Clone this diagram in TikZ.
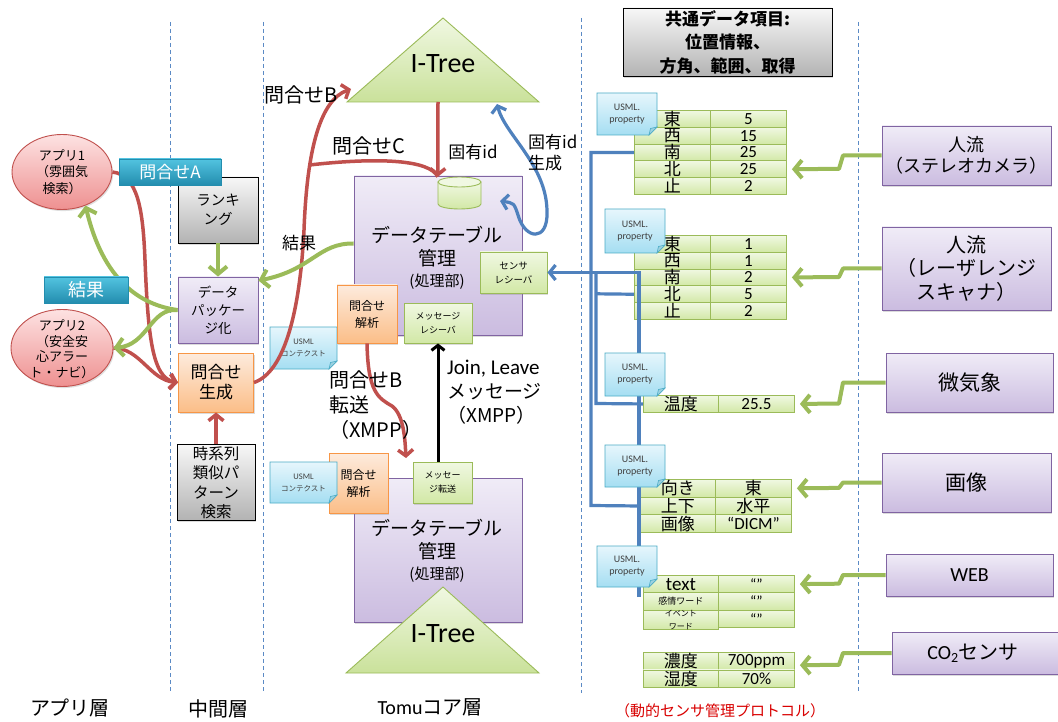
\documentclass[tikz,border=0pt]{standalone}
\usepackage{fontspec}
\setmainfont{Noto Sans CJK JP}
\newfontfamily\calib{Carlito}
\usetikzlibrary{arrows.meta,shapes.geometric,shadows}
\definecolor{gr}{HTML}{9BBB59}
\definecolor{rd}{HTML}{C0504D}
\definecolor{bl}{HTML}{4F81BD}
\definecolor{pu}{HTML}{8064A2}
\definecolor{puT}{HTML}{F0ECF7}
\definecolor{puB}{HTML}{CBBCE0}
\definecolor{orT}{HTML}{FDEBDD}
\definecolor{orB}{HTML}{FBBE88}
\definecolor{orD}{HTML}{F79646}
\definecolor{gT}{HTML}{F0F8E2}
\definecolor{gB}{HTML}{D2E8A6}
\definecolor{nT}{HTML}{E6F6FC}
\definecolor{nB}{HTML}{A5DEF2}
\definecolor{nD}{HTML}{4BACC6}
\definecolor{aqT}{HTML}{52C3E0}
\definecolor{aqB}{HTML}{238DAE}
\definecolor{pkT}{HTML}{FDE2E2}
\definecolor{pkB}{HTML}{EE9090}
\definecolor{dsh}{HTML}{5B8AC5}
\newcommand\fz[2]{\fontsize{#1}{#2}\selectfont}
\newcommand\mytrow[8]{%
  \node[cell, minimum width={#3-#2}, minimum height=#6, font=\fz{17}{17}] (#1l) at (#2,#5) {#7};
  \node[cell, minimum width={#4-#3}, minimum height=#6, font=\calib\fz{17}{17}] (#1r) at (#3,#5) {#8};
}
\newcommand\mynote[6]{%
  \path[draw=nD, line width=0.8pt, top color=nT, bottom color=nB]
    (#2,#3) -- (#4,#3) -- (#4,#5-8) -- (#4-8,#5) -- (#2,#5) -- cycle;
  \path[draw=nD, line width=0.6pt, fill=nD!55] (#4,#5-8) -- (#4-8,#5) -- (#4-6.5,#5-6.5) -- cycle;
  \node[inner sep=0pt, align=center, text=black!75, font=\calib\fz{10}{12}] (#1) at ({(#2+#4)/2},{(#3+#5)/2}) {#6};
}
\begin{document}
\begin{tikzpicture}[x=1pt,y=-1pt,
  box/.style={draw, line width=0.9pt, inner sep=0pt, align=center,
    drop shadow={shadow xshift=1.2pt,shadow yshift=-1.6pt,opacity=0.28}},
  pbox/.style={box, draw=pu, top color=puT, bottom color=puB},
  obox/.style={box, draw=orD, top color=orT, bottom color=orB},
  gbox/.style={box, draw=gr, top color=gT, bottom color=gB},
  kbox/.style={box, draw=black, top color=black!3, bottom color=black!30},
  abox/.style={draw=aqB, line width=0.6pt, top color=aqT, bottom color=aqB, text=white, inner sep=0pt},
  app/.style={ellipse, draw=rd, line width=0.9pt, top color=pkT, bottom color=pkB, inner sep=0pt,
    drop shadow={shadow xshift=1.2pt,shadow yshift=-1.6pt,opacity=0.25}},
  cell/.style={draw=gr, line width=0.9pt, top color=gT, bottom color=gB, inner sep=0pt, anchor=north west, align=center},
  lbl/.style={inner sep=0pt, align=left},
  garrow/.style={draw=gr, line width=4pt, line join=round, -{Straight Barb[length=7.5pt,width=18pt]}},
  rline/.style={draw=rd, line width=3.5pt},
  rarrow/.style={rline, -{Straight Barb[length=6pt,width=15pt]}},
  bline/.style={draw=bl, line width=3.2pt},
  barrow/.style={bline, -{Straight Barb[length=6pt,width=15pt]}},
  karrow/.style={draw=black, line width=3pt, -{Straight Barb[length=5pt,width=13pt]}},
  sep/.style={draw=dsh, line width=1pt, dash pattern=on 4pt off 3pt},
  tri/.style={draw=gr, line width=0.9pt, top color=gT, bottom color=gB!85!gr},
]
\fill[white] (0,0) rectangle (1058,722);
\useasboundingbox (0,0) rectangle (1058,722);

% layer separators
\draw[sep] (170,22) -- (170,693);
\draw[sep] (263,22) -- (263,693);
\draw[sep] (581,18) -- (581,693);
\draw[sep] (858,22) -- (858,693);

% ---------- left: apps ----------
\node[app, minimum width=100, minimum height=75] (app1) at (62,172) {};
\node[inner sep=0pt, align=center, font=\fz{13}{16.5}] (app1t) at (62,172) {アプリ1\\（雰囲気\\検索）};
\node[app, minimum width=102, minimum height=77] (app2) at (62,348) {};
\node[inner sep=0pt, align=center, font=\fz{13}{15.5}] (app2t) at (62,349) {アプリ2\\（安全安\\心アラー\\ト・ナビ）};

% ---------- middle layer ----------
\node[kbox, minimum width=80, minimum height=66, font=\fz{14.5}{19}] (rank) at (218,210) {ランキ\\ング};
\node[pbox, minimum width=80, minimum height=66, font=\fz{13.5}{18}] (pkg) at (218,310) {データ\\パッケー\\ジ化};
\node[obox, minimum width=75, minimum height=59, font=\fz{17}{20}] (gen) at (216,382.5) {問合せ\\生成};
\node[kbox, minimum width=78, minimum height=76, font=\fz{15.5}{19.5}] (ts) at (216,482.5) {時系列\\類似パ\\ターン\\検索};

% ---------- core: upper ----------
\path[tri] (443,18) -- (539,102) -- (347,102) -- cycle;
\node[font=\calib\fz{28}{28}, inner sep=0pt] (it1) at (443,64) {I-Tree};
\coordinate (itL) at (351,89);
\coordinate (itB) at (438,102);

\node[pbox, minimum width=168, minimum height=159] (dt1) at (438,255.5) {};
\node[inner sep=0pt, align=center, font=\fz{19}{23}] (dt1t) at (437,246.5) {データテーブル\\管理};
\node[inner sep=0pt, font=\fz{15}{15}] (dt1p) at (437,282) {(処理部)};

\node[inner sep=0pt, minimum width=43, minimum height=32] (cyl) at (459.5,193) {};
\path[draw=gr, line width=0.9pt, top color=gT, bottom color=gB]
  (438,182) -- (438,204) arc[start angle=180, end angle=0, x radius=21.5, y radius=5] -- (481,182) -- cycle;
\path[draw=gr, line width=0.9pt, fill=gT] (459.5,182) ellipse[x radius=21.5, y radius=5];

\node[gbox, minimum width=67, minimum height=41, font=\fz{9.5}{14}] (recv) at (513.5,272.5) {センサ\\レシーバ};
\mynote{ctx1}{270}{327}{337}{369}{{\fz{8.5}{11}USML}\\{\rmfamily\fz{7.5}{11}コンテクスト}}
\node[obox, minimum width=60, minimum height=58, font=\fz{12}{17}] (qa1) at (367,314) {問合せ\\解析};
\node[gbox, minimum width=68, minimum height=40, font=\fz{9}{14}] (mr1) at (438,323) {メッセージ\\レシーバ};

% ---------- core: lower ----------
\node[pbox, minimum width=168, minimum height=144] (dt2) at (438,550) {};
\node[inner sep=0pt, align=center, font=\fz{19}{23}] (dt2t) at (437,539.5) {データテーブル\\管理};
\node[inner sep=0pt, font=\fz{15}{15}] (dt2p) at (437,575) {(処理部)};
\path[tri] (443,587) -- (539,673) -- (346,673) -- cycle;
\node[font=\calib\fz{28}{28}, inner sep=0pt] (it2) at (443,634) {I-Tree};
\node[obox, minimum width=59, minimum height=60, font=\fz{12}{17}] (qa2) at (358.5,483) {問合せ\\解析};
\mynote{ctx2}{270}{462}{337}{503}{{\fz{8.5}{11}USML}\\{\rmfamily\fz{7.5}{11}コンテクスト}}
\node[gbox, minimum width=59, minimum height=41, font=\fz{9}{14}] (mt2) at (442.5,482.5) {メッセー\\ジ転送};

% ---------- right: common box ----------
\node[kbox, minimum width=209, minimum height=68, font=\bfseries\fz{17}{23.5}] (common) at (727.5,42) {共通データ項目:\\位置情報、\\方角、範囲、取得};

% tables
\mytrow{t1a}{634}{710}{786}{110}{16.8}{東}{5}
\mytrow{t1b}{634}{710}{786}{126.8}{16.8}{西}{15}
\mytrow{t1c}{634}{710}{786}{143.6}{16.8}{南}{25}
\mytrow{t1d}{634}{710}{786}{160.4}{16.8}{北}{25}
\mytrow{t1e}{634}{710}{786}{177.2}{16.8}{止}{2}

\mytrow{t2a}{634}{710}{786}{235}{16.8}{東}{1}
\mytrow{t2b}{634}{710}{786}{251.8}{16.8}{西}{1}
\mytrow{t2c}{634}{710}{786}{268.6}{16.8}{南}{2}
\mytrow{t2d}{634}{710}{786}{285.4}{16.8}{北}{5}
\mytrow{t2e}{634}{710}{786}{302.2}{16.8}{止}{2}

\mytrow{t3a}{643}{718}{794}{395}{17}{温度}{25.5}

\mytrow{t4a}{640}{715}{791}{479}{17.7}{向き}{\rmfamily 東}
\mytrow{t4b}{640}{715}{791}{496.7}{17.7}{上下}{\rmfamily 水平}
\mytrow{t4c}{640}{715}{791}{514.4}{17.7}{画像}{“DICM”}

\mytrow{t5a}{643}{718}{794}{575}{17.3}{\calib\fz{19}{19}text}{\fz{15}{15}“”}
\mytrow{t5b}{643}{718}{794}{592.3}{17.3}{\fz{9}{9}感情ワード}{\fz{15}{15}“”}
\mytrow{t5c}{643}{718}{794}{609.6}{17.3}{\fz{8}{8}イベント\\[-4pt]\fz{8}{8}ワード}{\fz{15}{15}“”}

\mytrow{t6a}{643}{718}{794}{652}{17.5}{濃度}{700ppm}
\mytrow{t6b}{643}{718}{794}{669.5}{17.5}{湿度}{70\%}

% blue connectors to the sensor receiver
\coordinate (bC) at (639,597);
\draw[bline] (t1cl.west) -- (591,152.4) -- (591,505.5) -- (t4bl.west);
\draw[bline] (t2dl.west) -- (596,293.8);
\draw[bline] (t3al.west) -- (596,403.5) -- (596,272.5);
\draw[barrow] (bC) -- (639,272.5) -- (recv.east);

% property notes
\mynote{n1}{597}{93}{657}{135}{USML.\\property}
\mynote{n2}{605}{209}{665}{253}{USML.\\property}
\mynote{n3}{605}{353}{665}{396}{USML.\\property}
\mynote{n4}{605}{445}{665}{487}{USML.\\property}
\mynote{n5}{597}{546}{657}{587}{USML.\\property}

% sensors
\node[pbox, minimum width=169, minimum height=59, font=\fz{18}{21}] (sA) at (966.5,155.5) {人流\\（ステレオカメラ）};
\node[pbox, minimum width=169, minimum height=83, font=\fz{20}{23.5}] (sB) at (966.5,268.5) {人流\\（レーザレンジ\\スキャナ）};
\node[pbox, minimum width=167, minimum height=59, font=\fz{21}{21}] (sC) at (969.5,382.5) {微気象};
\node[pbox, minimum width=169, minimum height=59, font=\fz{21}{21}] (sD) at (966.5,482.5) {画像};
\node[pbox, minimum width=167, minimum height=42, font=\calib\fz{20}{20}] (sE) at (969.5,575) {WEB};
\node[pbox, minimum width=172, minimum height=42] (sF) at (978,653) {};
\node[inner sep=0pt, font=\fz{20}{20}] (sFt) at (973,653) {{\calib CO\textsubscript{2}}センサ};

% sensor -> table arrows
\draw[garrow] (sA.west) -- (843,155.5) -- (839,168.8) -- ([xshift=5pt]t1dr.east);
\draw[garrow] (sB.west) -- (843,268.5) -- (839,277) -- ([xshift=5pt]t2cr.east);
\draw[garrow] (sC.west) -- (843,382.5) -- (839,403.5) -- ([xshift=5pt]t3ar.east);
\draw[garrow] (sD.west) -- (843,482.5) -- (839,487.9) -- ([xshift=5pt]t4ar.east);
\draw[garrow] (sE.west) -- (843,575) -- (839,583.7) -- ([xshift=5pt]t5ar.east);
\draw[garrow] (sF.west) -- (843,653) -- (839,664.8) -- ([xshift=5pt,yshift=-4pt]t6ar.east);

% ---------- red connectors ----------
\draw[rarrow] (app1.east) .. controls (138,175) and (143,210) .. (145,260) .. controls (148,335) and (152,378) .. (gen.west);
\draw[rarrow] (app2.east) .. controls (140,348) and (150,380) .. (gen.west);
\draw[rarrow] (ts.north) -- (gen.south);
\draw[rarrow] (gen.east) .. controls (285,372) and (300,310) .. (304,230) .. controls (307,150) and (320,100) .. (itL);
\coordinate (cB) at (309.5,165);
\draw[rline] (cB) .. controls (380,157) and (430,160) .. (cyl.north west);
\draw[rarrow] (itB) -- (cyl.north west);
\coordinate (tB) at (406,458);
\draw[rarrow] (qa1.south) .. controls (368,392) and (378,398) .. (392,406) .. controls (404,415) and (405,440) .. (tB);

% ---------- green connectors ----------
\draw[garrow] (rank.south) -- (pkg.north);
\draw[garrow] (pkg.west) .. controls (140,305) and (103,280) .. (app1.-55);
\draw[garrow] (pkg.west) .. controls (150,308) and (148,345) .. (app2.east);
\draw[garrow] ([yshift=12pt]dt1.west) .. controls (318,243) and (312,270) .. ([yshift=-4pt]pkg.north east);

% ---------- blue loop, black arrow ----------
\coordinate (bT1) at (497,104);
\coordinate (bT2) at (500,201);
\draw[bline, {Straight Barb[length=6pt,width=15pt]}-{Straight Barb[length=6pt,width=15pt]}]
  (bT1) .. controls (505,135) and (547,165) .. (547,212) .. controls (548,242) and (525,240) .. (518,215) .. controls (514,203) .. (bT2);
\draw[karrow] (mt2.north -| mr1.south) -- (mr1.south);

% ---------- labels ----------
\node[abox, minimum width=102, minimum height=26, font=\fz{17}{17}] (qA) at (170,172) {問合せA};
\node[abox, minimum width=84, minimum height=26, font=\fz{18}{18}] (res) at (86,290) {結果};
\node[lbl, anchor=west, font=\fz{20}{20}] (lB) at (264,95) {問合せB};
\node[lbl, anchor=west, font=\fz{20}{20}] (lC) at (332,146) {問合せC};
\node[inner sep=0pt, font=\fz{17}{17}] (lid) at (473,152) {固有id};
\node[lbl, anchor=west, font=\fz{17}{21}] (lgen) at (528,153) {固有id\\生成};
\node[inner sep=0pt, font=\fz{17}{17}] (lres) at (299,243) {結果};
\node[lbl, anchor=west, font=\fz{20}{25}] (lBt) at (329,405) {問合せB\\転送\\（XMPP）};
\node[lbl, anchor=west, font=\fz{19}{24}] (lJ) at (447,392) {{\calib\fz{21}{24}Join, Leave}\\メッセージ\\（XMPP）};

\node[inner sep=0pt, font=\fz{20}{20}] (L1) at (70,708) {アプリ層};
\node[inner sep=0pt, font=\fz{20}{20}] (L2) at (218,709) {中間層};
\node[inner sep=0pt, font=\fz{20}{20}] (L3) at (430,707) {{\calib Tomu}コア層};
\node[inner sep=0pt, font=\fz{15}{15}, text=red!85!black] (L4) at (720,711) {（動的センサ管理プロトコル）};
\end{tikzpicture}
\end{document}
